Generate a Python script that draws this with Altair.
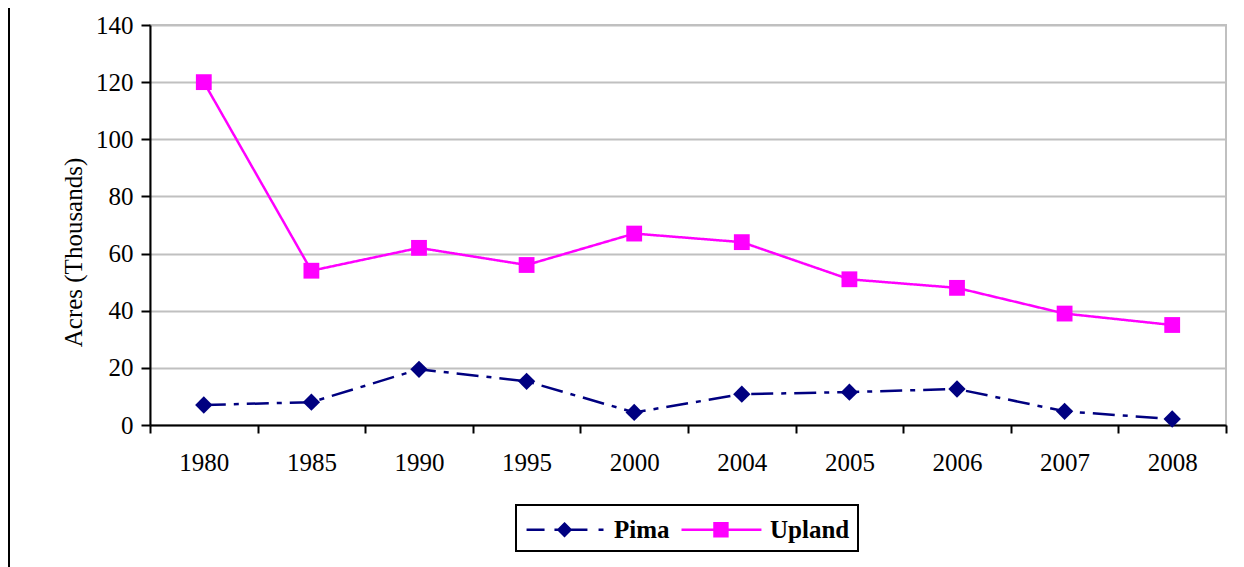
import altair as alt
import pandas as pd

years = ["1980", "1985", "1990", "1995", "2000", "2004", "2005", "2006", "2007", "2008"]
pima = [7, 8, 19.5, 15.3, 4.4, 10.8, 11.5, 12.6, 4.8, 2.1]
upland = [120, 54, 62, 56, 67, 64, 51, 48, 39, 35]
series_names = ["Pima", "Upland"]
colors = ["#000080", "#ff00ff"]
y_ticks = [0, 20, 40, 60, 80, 100, 120, 140]

rows = []
for i, yr in enumerate(years):
    rows.append({"year": yr, "series": "Pima", "value": pima[i]})
    rows.append({"year": yr, "series": "Upland", "value": upland[i]})
df = pd.DataFrame(rows)

FONT = "Liberation Serif"


def diamond(cx, radii):
    return "".join("M%g,%gL%g,0L%g,%gL%g,0Z" % (cx, -r, cx + r, cx, r, cx - r) for r in radii)


def square(cx, halves):
    return "".join("M%g,%gH%gV%gH%gZ" % (cx - h, -h, cx + h, h, cx - h) for h in halves)


# legend symbol glyphs (unit = 15 px, drawn to the right of the symbol slot)
legend_paths = [
    "M-0.93,0H0.27M0.93,0H3.13M3.87,0H4.2" + diamond(1.6, [0.4, 0.27, 0.14, 0.03]),
    "M-1,0H4.33" + square(1.63, [0.43, 0.29, 0.15, 0.03]),
]

x_enc = alt.X(
    "year:N", sort=years,
    scale=alt.Scale(type="band", paddingInner=0, paddingOuter=0),
    axis=alt.Axis(title=None, tickBand="extent", labelAngle=0, grid=False,
                  domainColor="black", domainWidth=2, tickColor="black",
                  tickWidth=2, tickSize=8, labelFont=FONT, labelFontSize=25,
                  labelColor="black", labelPadding=17),
)
y_enc = alt.Y(
    "value:Q", scale=alt.Scale(domain=[0, 140], nice=False),
    axis=alt.Axis(title="Acres (Thousands)", values=y_ticks, grid=True,
                  gridColor="#c0c0c0", gridWidth=2, domainColor="black",
                  domainWidth=2, tickColor="black", tickWidth=2, tickSize=9,
                  labelFont=FONT, labelFontSize=25, labelColor="black",
                  labelPadding=8, titleFont=FONT, titleFontSize=25,
                  titleFontWeight="normal", titleColor="black",
                  titlePadding=9, titleY=227),
)

base = alt.Chart(df)

lines = base.mark_line(strokeWidth=2.5).encode(
    x=x_enc, y=y_enc,
    color=alt.Color("series:N", scale=alt.Scale(domain=series_names, range=colors), legend=None),
    strokeDash=alt.StrokeDash("series:N", scale=alt.Scale(domain=series_names, range=[[22, 8, 5, 8], [1, 0]]), legend=None),
)

points = base.mark_point(filled=True, opacity=1).encode(
    x=x_enc, y=y_enc,
    color=alt.Color("series:N", scale=alt.Scale(domain=series_names, range=colors), legend=None),
    shape=alt.Shape("series:N", scale=alt.Scale(domain=series_names, range=["diamond", "square"]), legend=None),
    size=alt.Size("series:N", scale=alt.Scale(domain=series_names, range=[300, 250]), legend=None),
)

leg = alt.Legend(title=None, orient="none", legendX=366, legendY=480,
                 direction="horizontal", labelFont=FONT, labelFontSize=25,
                 labelFontWeight="bold", labelColor="black", symbolSize=900,
                 symbolStrokeWidth=2.5, strokeColor="black", padding=8,
                 columnPadding=6, labelOffset=57)

legend_layer = base.mark_point(filled=True, opacity=0).encode(
    x=x_enc, y=y_enc,
    fill=alt.Fill("series:N", scale=alt.Scale(domain=series_names, range=colors), legend=leg),
    stroke=alt.Stroke("series:N", scale=alt.Scale(domain=series_names, range=colors), legend=leg),
    shape=alt.Shape("series:N", scale=alt.Scale(domain=series_names, range=legend_paths), legend=leg),
)

frame = alt.Chart(pd.DataFrame({"a": [0]})).mark_rule(color="black", strokeWidth=2, clip=False).encode(
    x=alt.value(-141), y=alt.value(-25), y2=alt.value(545)
)

chart = alt.layer(lines, points, legend_layer, frame).resolve_scale(
    color="independent", shape="independent", stroke="independent",
    fill="independent", size="independent"
).properties(
    width=1076, height=400, autosize="none",
    padding={"left": 142, "top": 17, "right": 10, "bottom": 142},
).configure_view(stroke="#c0c0c0", strokeWidth=2).configure_legend(strokeWidth=2)

chart.save("out.html", embed_options={"renderer": "svg", "actions": False})
